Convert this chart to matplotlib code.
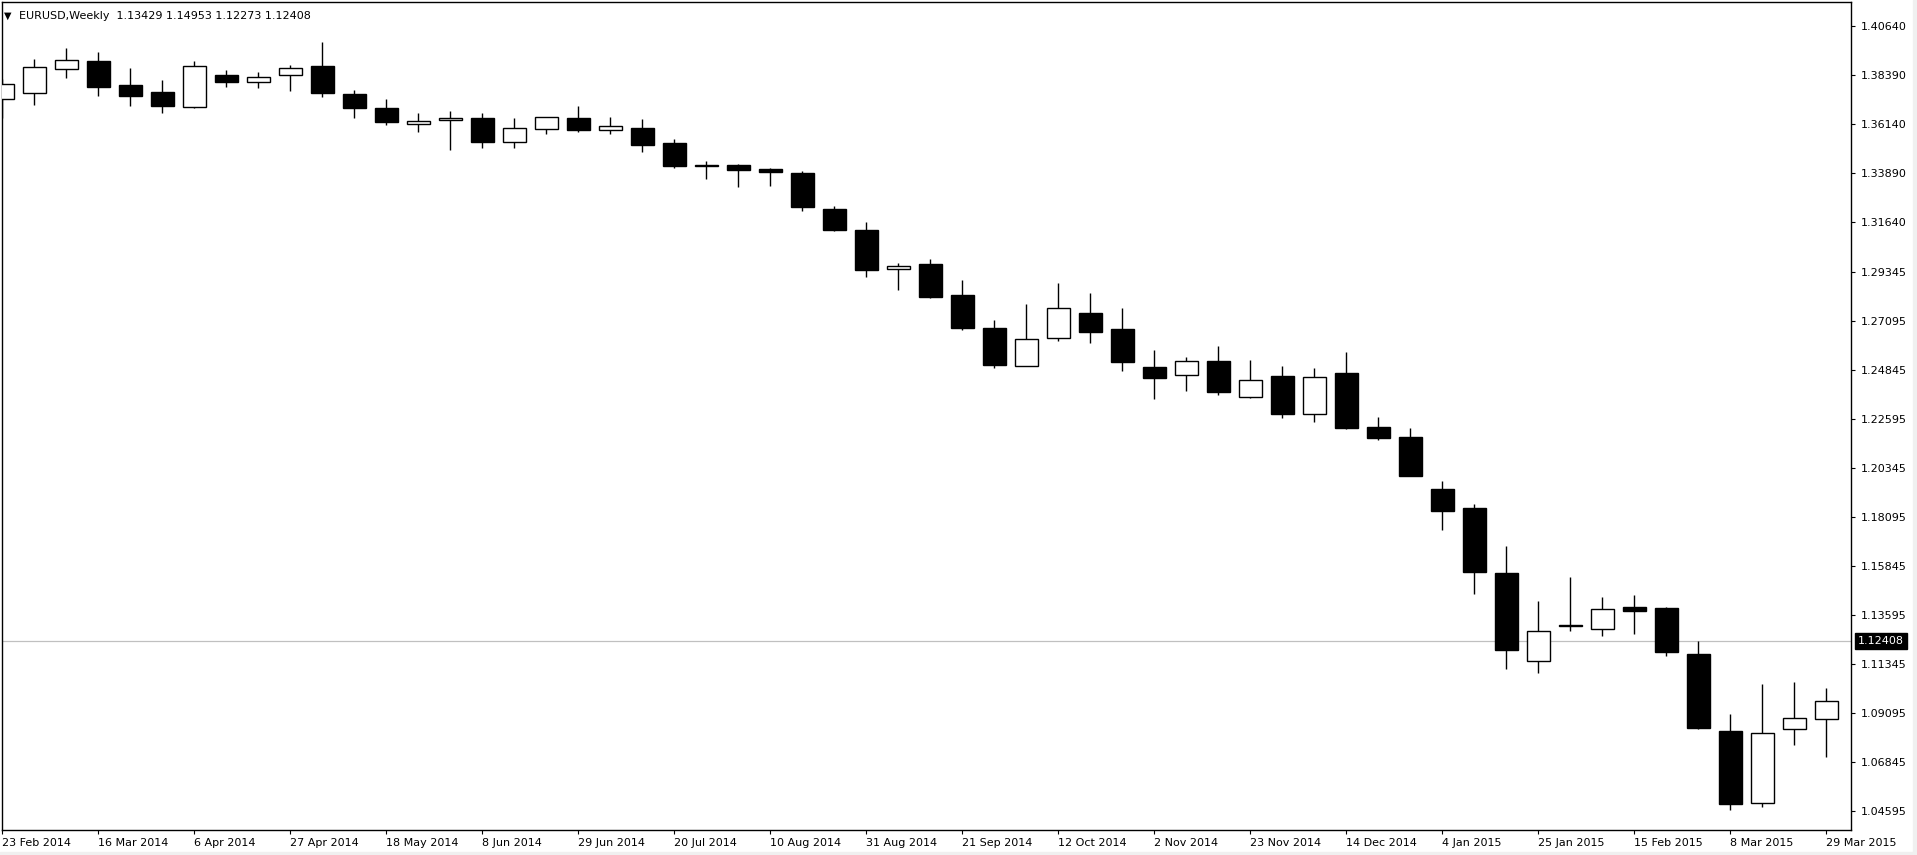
import matplotlib

matplotlib.use("Agg")
import matplotlib.pyplot as plt
import numpy as np
from matplotlib.patches import Rectangle

# weekly EURUSD bars, week starting dates
weeks = [
    "23 Feb 2014", "2 Mar 2014", "9 Mar 2014", "16 Mar 2014", "23 Mar 2014", "30 Mar 2014",
    "6 Apr 2014", "13 Apr 2014", "20 Apr 2014", "27 Apr 2014", "4 May 2014", "11 May 2014",
    "18 May 2014", "25 May 2014", "1 Jun 2014", "8 Jun 2014", "15 Jun 2014", "22 Jun 2014",
    "29 Jun 2014", "6 Jul 2014", "13 Jul 2014", "20 Jul 2014", "27 Jul 2014", "3 Aug 2014",
    "10 Aug 2014", "17 Aug 2014", "24 Aug 2014", "31 Aug 2014", "7 Sep 2014", "14 Sep 2014",
    "21 Sep 2014", "28 Sep 2014", "5 Oct 2014", "12 Oct 2014", "19 Oct 2014", "26 Oct 2014",
    "2 Nov 2014", "9 Nov 2014", "16 Nov 2014", "23 Nov 2014", "30 Nov 2014", "7 Dec 2014",
    "14 Dec 2014", "21 Dec 2014", "28 Dec 2014", "4 Jan 2015", "11 Jan 2015", "18 Jan 2015",
    "25 Jan 2015", "1 Feb 2015", "8 Feb 2015", "15 Feb 2015", "22 Feb 2015", "1 Mar 2015",
    "8 Mar 2015", "15 Mar 2015", "22 Mar 2015", "29 Mar 2015",
]
opens = [
    1.3730, 1.3757, 1.3870, 1.3906, 1.3795, 1.3763, 1.3693, 1.3841, 1.3808, 1.3840,
    1.3883, 1.3754, 1.3690, 1.3615, 1.3633, 1.3644, 1.3535, 1.3592, 1.3644, 1.3590,
    1.3598, 1.3529, 1.3424, 1.3428, 1.3410, 1.3391, 1.3228, 1.3130, 1.2952, 1.2973,
    1.2831, 1.2679, 1.2506, 1.2632, 1.2748, 1.2675, 1.2500, 1.2462, 1.2526, 1.2361,
    1.2459, 1.2283, 1.2473, 1.2225, 1.2179, 1.1940, 1.1853, 1.1554, 1.1148, 1.1314,
    1.1295, 1.1396, 1.1393, 1.1182, 1.0828, 1.0496, 1.0836, 1.0882,
]
highs = [
    1.3821, 1.3915, 1.3965, 1.3947, 1.3873, 1.3818, 1.3906, 1.3864, 1.3855, 1.3887,
    1.3993, 1.3772, 1.3731, 1.3665, 1.3676, 1.3665, 1.3644, 1.3650, 1.3699, 1.3647,
    1.3639, 1.3546, 1.3446, 1.3432, 1.3414, 1.3400, 1.3240, 1.3164, 1.2976, 1.2998,
    1.2900, 1.2716, 1.2789, 1.2886, 1.2840, 1.2770, 1.2578, 1.2547, 1.2597, 1.2532,
    1.2505, 1.2494, 1.2569, 1.2271, 1.2220, 1.1977, 1.1871, 1.1678, 1.1425, 1.1536,
    1.1444, 1.1453, 1.1400, 1.1242, 1.0906, 1.1044, 1.1053, 1.1026,
]
lows = [
    1.3642, 1.3703, 1.3829, 1.3746, 1.3699, 1.3668, 1.3690, 1.3788, 1.3783, 1.3769,
    1.3742, 1.3645, 1.3612, 1.3581, 1.3497, 1.3507, 1.3507, 1.3572, 1.3579, 1.3572,
    1.3489, 1.3414, 1.3364, 1.3328, 1.3333, 1.3218, 1.3125, 1.2915, 1.2854, 1.2819,
    1.2670, 1.2497, 1.2504, 1.2618, 1.2612, 1.2483, 1.2355, 1.2391, 1.2373, 1.2358,
    1.2267, 1.2246, 1.2217, 1.2164, 1.1999, 1.1752, 1.1458, 1.1114, 1.1096, 1.1289,
    1.1266, 1.1275, 1.1174, 1.0839, 1.0464, 1.0478, 1.0765, 1.0710,
]
closes = [
    1.3800, 1.3877, 1.3909, 1.3788, 1.3746, 1.3700, 1.3883, 1.3810, 1.3831, 1.3872,
    1.3757, 1.3691, 1.3627, 1.3629, 1.3644, 1.3535, 1.3596, 1.3647, 1.3590, 1.3606,
    1.3520, 1.3423, 1.3427, 1.3405, 1.3397, 1.3236, 1.3131, 1.2947, 1.2964, 1.2822,
    1.2679, 1.2509, 1.2627, 1.2770, 1.2662, 1.2523, 1.2451, 1.2526, 1.2387, 1.2439,
    1.2286, 1.2453, 1.2221, 1.2175, 1.2001, 1.1840, 1.1560, 1.1202, 1.1286, 1.1309,
    1.1387, 1.1381, 1.1193, 1.0844, 1.0494, 1.0818, 1.0887, 1.0965,
]

price_ticks = [1.40640, 1.38390, 1.36140, 1.33890, 1.31640, 1.29345, 1.27095, 1.24845, 1.22595,
               1.20345, 1.18095, 1.15845, 1.13595, 1.11345, 1.09095, 1.06845, 1.04595]
price_labels = ["1.40640", "1.38390", "1.36140", "1.33890", "1.31640", "1.29345", "1.27095",
                "1.24845", "1.22595", "1.20345", "1.18095", "1.15845", "1.13595", "1.11345",
                "1.09095", "1.06845", "1.04595"]
last_price = 1.12408
last_label = "1.12408"
title = "EURUSD,Weekly  1.13429 1.14953 1.12273 1.12408"

W, H = 1917, 855
fig = plt.figure(figsize=(W / 100, H / 100), dpi=100)
fig.patch.set_facecolor("white")
ax = fig.add_axes([1.7 / W, 25 / H, (1851 - 1.7) / W, 828 / H])

x = np.arange(len(weeks))
o = np.array(opens)
c = np.array(closes)
up = c >= o

# wicks
ax.vlines(x, lows, highs, color="black", linewidth=1.0, zorder=2)
# bodies
bottoms = np.minimum(o, c)
heights = np.maximum(np.abs(c - o), 0.00005)
ax.bar(x[up], heights[up], bottom=bottoms[up], width=0.72, color="white",
       edgecolor="black", linewidth=1.0, zorder=3)
ax.bar(x[~up], heights[~up], bottom=bottoms[~up], width=0.72, color="black",
       edgecolor="black", linewidth=1.0, zorder=3)

# current price line + label
ax.axhline(last_price, color="#c0c0c0", linewidth=0.9, zorder=1)
ax.text(1.0038, last_price, last_label, transform=ax.get_yaxis_transform(),
        ha="left", va="center", color="white", fontsize=8, clip_on=False,
        bbox=dict(boxstyle="square,pad=0.25", fc="black", ec="black"))

ax.set_xlim((1.7 - 2.3) / 32, (1851 - 2.3) / 32)
ax.set_ylim(1.03736, 1.41765)

ax.yaxis.tick_right()
ax.set_yticks(price_ticks)
ax.set_yticklabels(price_labels)
ax.set_xticks(x[::3])
ax.set_xticklabels(weeks[::3])
for lab in ax.get_xticklabels():
    lab.set_horizontalalignment("left")

ax.tick_params(axis="y", direction="out", length=3, width=0.8, pad=4, labelsize=8, colors="black")
ax.tick_params(axis="x", direction="out", length=3, width=0.8, pad=2.5, labelsize=8, colors="black")
for s in ax.spines.values():
    s.set_color("black")
    s.set_linewidth(1.0)

fig.text(4 / W, 1 - 15.5 / H, "\u25bc", fontsize=7, va="center", ha="left")
fig.text(19 / W, 1 - 16 / H, title, fontsize=8, va="center", ha="left")

# light frame strips at bottom and right edge
fig.patches.append(Rectangle((0, 0), 1, 3 / H, transform=fig.transFigure, color="#f0f0f0", zorder=0))
fig.patches.append(Rectangle((1 - 4 / W, 0), 4 / W, 1, transform=fig.transFigure, color="#f0f0f0", zorder=0))

fig.savefig("out.png", dpi=100)
